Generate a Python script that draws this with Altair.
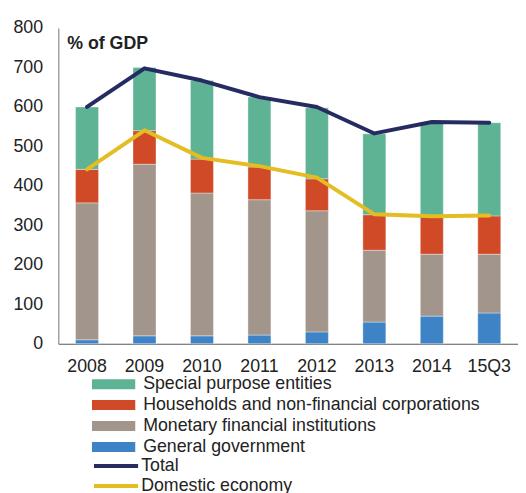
import altair as alt
import pandas as pd

periods = ["2008", "2009", "2010", "2011", "2012", "2013", "2014", "15Q3"]
general_government = [10, 20, 20, 22, 30, 55, 70, 78]
monetary_financial = [347, 435, 362, 343, 307, 182, 157, 149]
households_nfc = [85, 85, 86, 83, 81, 90, 95, 97]
special_purpose = [158, 160, 199, 177, 180, 205, 239, 236]
total = [600, 698, 667, 625, 600, 533, 562, 560]
domestic_economy = [442, 541, 471, 450, 421, 328, 323, 325]

bar_series = ["Special purpose entities", "Households and non-financial corporations",
              "Monetary financial institutions", "General government"]
bar_colors = ["#5db394", "#d04a28", "#a2958b", "#3d83c6"]
line_series = ["Total", "Domestic economy"]
line_colors = ["#262c62", "#e3bd22"]

stack_values = {
    "General government": general_government,
    "Monetary financial institutions": monetary_financial,
    "Households and non-financial corporations": households_nfc,
    "Special purpose entities": special_purpose,
}
stack_rank = {"General government": 0, "Monetary financial institutions": 1,
              "Households and non-financial corporations": 2, "Special purpose entities": 3}

bar_rows = []
for name, vals in stack_values.items():
    for p, v in zip(periods, vals):
        bar_rows.append({"period": p, "series": name, "value": v, "rank": stack_rank[name]})
bars_df = pd.DataFrame(bar_rows)

line_rows = []
for name, vals in zip(line_series, [total, domestic_economy]):
    for p, v in zip(periods, vals):
        line_rows.append({"period": p, "series": name, "value": v})
lines_df = pd.DataFrame(line_rows)

FONT = "Liberation Sans"
FS = 18

x_enc = alt.X("period:N", sort=periods, title=None,
              scale=alt.Scale(paddingInner=0.6, paddingOuter=0.3),
              axis=alt.Axis(labelAngle=0, ticks=False, labelPadding=14, labelFontSize=FS,
                            labelColor="#222222", domainColor="#5a5a5a", domainWidth=1.2))
y_axis = alt.Axis(values=list(range(0, 801, 100)), grid=False, ticks=False,
                  labelPadding=16, labelFontSize=FS, labelColor="#222222",
                  domainColor="#8a8a8a", domainWidth=1.2)
y_scale = alt.Scale(domain=[0, 800], nice=False)

bars = alt.Chart(bars_df).mark_bar(stroke="white", strokeWidth=0.6, strokeOpacity=0.6).encode(
    x=x_enc,
    y=alt.Y("value:Q", stack="zero", title=None, scale=y_scale, axis=y_axis),
    fill=alt.Fill("series:N", scale=alt.Scale(domain=bar_series, range=bar_colors),
                  legend=alt.Legend(title=None, orient="none", legendX=34, legendY=352,
                                    symbolType="M-1,-0.23H1V0.23H-1Z", symbolSize=1936,
                                    symbolStrokeWidth=0, labelFontSize=FS, labelFont=FONT,
                                    labelColor="#222222", labelOffset=8, labelLimit=400,
                                    rowPadding=3.2, clipHeight=18, padding=0)),
    order=alt.Order("rank:Q", sort="ascending"),
)

lines = alt.Chart(lines_df).mark_line(strokeWidth=4, strokeCap="round", strokeJoin="round").encode(
    x=x_enc,
    y=alt.Y("value:Q", title=None, scale=y_scale, axis=y_axis),
    stroke=alt.Stroke("series:N", scale=alt.Scale(domain=line_series, range=line_colors),
                      legend=alt.Legend(title=None, orient="none", legendX=34, legendY=435,
                                        symbolType="stroke", symbolSize=2000,
                                        symbolStrokeWidth=4, labelFontSize=FS, labelFont=FONT,
                                        labelColor="#222222", labelOffset=1, labelLimit=400,
                                        rowPadding=2.3, clipHeight=18, padding=0)),
)

chart = alt.layer(bars, lines).resolve_scale(fill="independent", stroke="independent").properties(
    width=466,
    height=320,
    autosize=alt.AutoSizeParams(type="none"),
    padding={"left": 51, "top": 17, "right": 0, "bottom": 150},
    title=alt.TitleParams("% of GDP", anchor="start", frame="group", orient="top",
                          fontSize=FS, fontWeight="bold", font=FONT, color="#222222",
                          dx=9, dy=34, offset=0),
).configure(font=FONT).configure_view(stroke=None)

chart.save("out.html", embed_options={"renderer": "svg", "actions": False})
